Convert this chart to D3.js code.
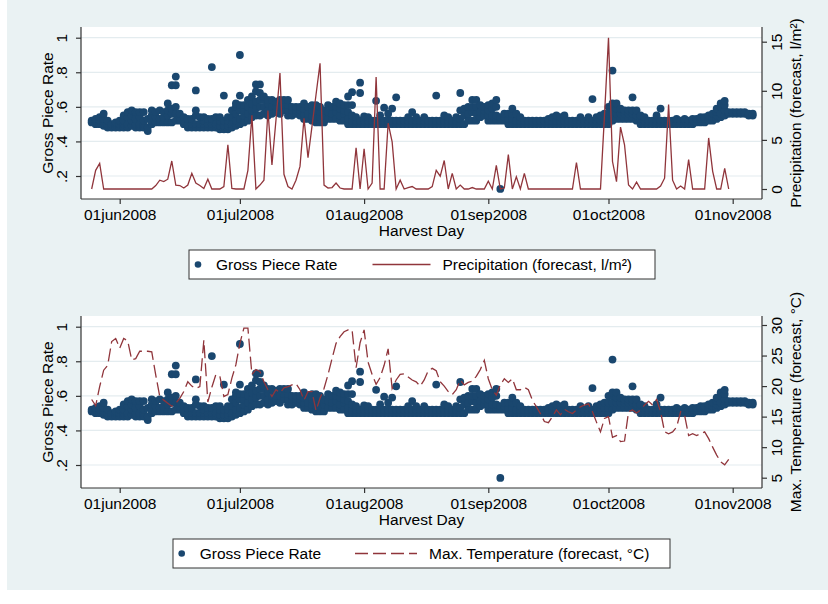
<!DOCTYPE html>
<html>
<head>
<meta charset="utf-8">
<script src="https://cdn.jsdelivr.net/npm/d3@7"></script>
<style>
  body { margin: 0; background: #fff; }
  text { font-family: "Liberation Sans", Arial, Helvetica, sans-serif; fill: #000; }
</style>
</head>
<body>
<div id="chart"></div>
<script>
// Gross piece rate: one list per harvest day (from 25 May 2008), one value per observation
const rateMay = [
  [0.51,0.52],[0.50,0.52,0.53],[0.50,0.52,0.54],[0.49,0.51,0.53,0.56],[0.48,0.50,0.52],
  [0.48,0.50],[0.48,0.50,0.51]
];
const rateJun = [
  [0.48,0.50,0.52],[0.48,0.50,0.52,0.55],[0.48,0.50,0.54,0.57],[0.49,0.52,0.55,0.58],[0.48,0.50,0.53,0.57],
  [0.48,0.50,0.54,0.57],[0.48,0.50,0.52,0.57],[0.46,0.48,0.53],[0.50,0.52,0.55,0.58],[0.51,0.54,0.57],
  [0.51,0.53,0.58],[0.51,0.54,0.57],[0.51,0.55,0.58,0.62],[0.51,0.56,0.59,0.725],[0.52,0.56,0.60,0.725,0.775],
  [0.52,0.54,0.56],[0.50,0.52,0.54],[0.48,0.50,0.53],[0.48,0.50,0.53],[0.48,0.50,0.55,0.58,0.695],
  [0.48,0.50,0.54],[0.48,0.50,0.52,0.54],[0.48,0.50,0.53],[0.48,0.50,0.53,0.83],[0.48,0.50,0.54],
  [0.47,0.49,0.52,0.54],[0.47,0.49,0.52,0.665],[0.47,0.49,0.52,0.54],[0.48,0.50,0.54,0.58],[0.49,0.52,0.56,0.60,0.62]
];
const rateJul = [
  [0.50,0.53,0.58,0.61,0.665,0.90],[0.51,0.55,0.58,0.61],[0.52,0.56,0.60,0.64],[0.54,0.58,0.62,0.66],[0.55,0.59,0.63,0.69,0.73],
  [0.55,0.60,0.64,0.68,0.73],[0.56,0.60,0.64,0.66],[0.55,0.58,0.62,0.64],[0.56,0.60,0.64],[0.57,0.60,0.63],
  [0.56,0.60,0.64],[0.58,0.61,0.64],[0.55,0.58,0.61,0.64],[0.55,0.58,0.60],[0.56,0.58,0.60],
  [0.55,0.58,0.60],[0.53,0.56,0.59,0.62],[0.53,0.56,0.60],[0.52,0.55,0.58,0.61],[0.51,0.54,0.58,0.61],
  [0.51,0.54,0.57,0.60],[0.51,0.55,0.58],[0.53,0.57,0.61],[0.53,0.56,0.60],[0.53,0.57,0.60,0.63],
  [0.52,0.55,0.59,0.62],[0.52,0.56,0.58,0.61],[0.50,0.53,0.57,0.61,0.66],[0.50,0.52,0.55,0.61,0.685],[0.50,0.52,0.54],
  [0.50,0.52,0.68,0.74]
];
const rateAug = [
  [0.50,0.52,0.545],[0.50,0.52,0.54],[0.50,0.52],[0.50,0.52,0.635],[0.50,0.52,0.55],
  [0.50,0.52,0.595],[0.50,0.52,0.56],[0.50,0.52,0.59],[0.50,0.52,0.655],[0.50,0.52],
  [0.50,0.52],[0.50,0.52,0.54],[0.50,0.52,0.57],[0.50,0.52,0.54],[0.50,0.52],
  [0.50,0.52,0.54],[0.50,0.52],[0.50,0.52],[0.50,0.52,0.665],[0.50,0.52],
  [0.50,0.52,0.55],[0.50,0.52,0.54],[0.50,0.52],[0.50,0.52,0.54],[0.50,0.53,0.58,0.68],
  [0.50,0.55,0.59],[0.52,0.56,0.60],[0.52,0.57,0.60,0.64],[0.52,0.56,0.60,0.64],[0.54,0.57,0.61],
  [0.55,0.58,0.60]
];
const rateSep = [
  [0.52,0.55,0.58,0.61],[0.52,0.55,0.59,0.62],[0.52,0.55,0.60,0.64],[0.52,0.54,0.125],[0.52,0.54,0.56],
  [0.50,0.53,0.56],[0.50,0.53,0.56,0.59],[0.50,0.52,0.56],[0.50,0.52,0.54],[0.50,0.52],
  [0.50,0.52],[0.50,0.52],[0.50,0.52],[0.50,0.52],[0.50,0.52],
  [0.50,0.52,0.53],[0.50,0.52,0.54],[0.50,0.52,0.55],[0.50,0.52,0.54],[0.50,0.52,0.55],
  [0.50,0.52],[0.50,0.52],[0.50,0.52],[0.50,0.52,0.54],[0.50,0.52],
  [0.50,0.52,0.54],[0.50,0.52,0.645],[0.50,0.52,0.54],[0.50,0.52,0.55],[0.50,0.53,0.56]
];
const rateOct = [
  [0.50,0.53,0.56,0.60],[0.52,0.56,0.60,0.62,0.81],[0.53,0.56,0.59,0.62],[0.53,0.56,0.59],[0.53,0.56,0.58],
  [0.53,0.56,0.58],[0.53,0.56,0.58,0.655],[0.52,0.55,0.58],[0.50,0.53,0.55],[0.50,0.52,0.54],
  [0.50,0.52],[0.50,0.52],[0.50,0.52,0.55],[0.50,0.52,0.59],[0.50,0.52],
  [0.50,0.52],[0.50,0.52],[0.50,0.52,0.53],[0.50,0.52],[0.50,0.52,0.53],
  [0.50,0.52],[0.50,0.52,0.53],[0.51,0.53],[0.51,0.53,0.54],[0.51,0.53,0.54],
  [0.52,0.54,0.55],[0.52,0.54,0.56],[0.53,0.55,0.57,0.59],[0.54,0.56,0.60,0.62],[0.55,0.58,0.61,0.635],
  [0.56,0.57]
];
const rateNov = [[0.56,0.57],[0.56,0.57],[0.56,0.57],[0.56,0.57],[0.55,0.56],[0.55,0.56]];

// Precipitation forecast (l/m²), daily from 25 May 2008
const precipMay = [0, 1.9, 2.6, 0, 0, 0, 0];
const precipJun = [0, 0, 0, 0, 0, 0, 0, 0, 0, 0.35, 0.9, 0.75, 1.0, 2.85, 0.4,
  0.35, 0.1, 0.4, 1.6, 0.6, 0.35, 0.05, 1.0, 0, 0, 0, 0.25, 4.5, 0.05, 0];
const precipJul = [0, 0, 1.9, 7.5, 0, 0.4, 0.9, 8.0, 2.45, 7.0, 11.8, 1.5, 0.25, 0, 0.9,
  2.3, 7.2, 3.2, 6.4, 9.6, 12.8, 0.4, 0.1, 0.15, 0.6, 0.1, 0, 0, 0, 4.2, 0];
const precipAug = [4.1, 0, 0.6, 11.4, 0, 0, 6.7, 4.8, 0, 0.9, 0, 0.15, 0.25, 0, 0,
  0, 0, 0.25, 1.9, 1.3, 2.9, 0, 1.6, 0, 0.4, 0, 0, 0.15, 0, 0, 0];
const precipSep = [0.8, 0, 2.4, 0, 0.1, 3.5, 0, 1.25, 0, 1.6, 0, 0, 0, 0, 0,
  0, 0, 0, 0, 0, 0, 0, 2.7, 0, 0, 0, 0, 0, 0, 7.5];
const precipOct = [15.4, 2.8, 0.75, 6.3, 4.5, 0.4, 0, 0.7, 0, 0, 0, 0, 0, 0.3, 1.1,
  8.6, 0.9, 0, 0.3, 0, 3.0, 0, 0, 0, 0, 5.2, 1.8, 0, 0, 2.1, 0];

// Max. temperature forecast (°C), daily from 25 May 2008
const tempMay = [17.8, 16.8, 19.9, 22.6, 23.4, 27.3, 27.8];
const tempJun = [26.2, 27.8, 27.4, 24.3, 24.5, 25.7, 25.7, 25.7, 25.6, 21.8, 18.3, 17.7, 17.2, 16.7, 17.2,
  18.0, 19.1, 20.7, 20.0, 19.6, 19.9, 27.5, 17.4, 19.8, 21.9, 21.6, 18.3, 18.6, 21.3, 23.5];
const tempJul = [27.0, 29.5, 29.5, 21.9, 22.7, 22.4, 20.7, 19.4, 18.3, 19.4, 18.9, 19.7, 19.9, 20.2, 20.4,
  19.4, 17.7, 19.1, 19.1, 16.0, 18.0, 19.6, 21.9, 24.5, 27.0, 28.1, 28.9, 29.2, 29.2, 23.0, 27.1];
const tempAug = [29.2, 23.9, 21.9, 20.3, 21.4, 23.4, 26.1, 19.6, 21.0, 21.9, 22.0, 21.5, 21.0, 20.7, 20.0,
  21.0, 22.5, 22.9, 22.5, 20.7, 20.0, 19.1, 18.6, 19.4, 21.0, 20.2, 20.6, 20.8, 21.6, 22.7, 24.2];
const tempSep = [21.2, 19.4, 18.5, 20.2, 21.2, 20.6, 21.2, 19.4, 19.4, 19.8, 19.4, 17.7, 16.6, 15.5, 14.2,
  14.0, 15.0, 16.1, 15.3, 16.2, 15.8, 15.5, 16.1, 16.6, 16.9, 17.1, 15.8, 14.1, 12.5, 14.7];
const tempOct = [15.0, 11.6, 11.9, 10.9, 11.0, 15.8, 16.1, 15.6, 16.1, 16.9, 17.5, 16.9, 17.8, 15.8, 12.5,
  12.2, 12.5, 13.3, 15.8, 15.2, 11.9, 12.2, 11.9, 12.2, 12.5, 11.4, 10.0, 8.7, 7.6, 7.1, 8.0];

const rateTicks = [0.2, 0.4, 0.6, 0.8, 1];
const precipTicks = [0, 5, 10, 15];
const tempTicks = [5, 10, 15, 20, 25, 30];
const monthTicks = ["2008-06-01", "2008-07-01", "2008-08-01", "2008-09-01", "2008-10-01", "2008-11-01"];

const navy = "#1a476f";
const maroon = "#90353b";
const gridColor = "#e4ecef";
const fontSize = "15.5px";

const startDay = new Date(2008, 4, 25);
const parseDay = d3.timeParse("%Y-%m-%d");
const dayAt = i => d3.timeDay.offset(startDay, i);

const ratePoints = [].concat(rateMay, rateJun, rateJul, rateAug, rateSep, rateOct, rateNov)
  .flatMap((vals, i) => vals.map(v => ({ date: dayAt(i), v })));
const precipSeries = [].concat(precipMay, precipJun, precipJul, precipAug, precipSep, precipOct)
  .map((v, i) => ({ date: dayAt(i), v }));
const tempSeries = [].concat(tempMay, tempJun, tempJul, tempAug, tempSep, tempOct)
  .map((v, i) => ({ date: dayAt(i), v }));

const W = 828, H = 604;
const plotL = 81, plotR = 762, plotT = 27, plotB = 199;

const svg = d3.select("#chart").append("svg")
  .attr("width", W).attr("height", H);

// graph region background
svg.append("rect")
  .attr("x", 7).attr("y", 0).attr("width", W - 7).attr("height", 590)
  .attr("fill", "#eaf2f3");

const x = d3.scaleTime()
  .domain([parseDay("2008-06-01"), parseDay("2008-11-01")])
  .range([119.7, 732.7]);

const fmtDay = d => d3.timeFormat("%d")(d) + d3.timeFormat("%b")(d).toLowerCase() + d3.timeFormat("%Y")(d);
const fmtRate = d => d === 1 ? "1" : d3.format(".1f")(d).replace(/^0/, "");

function drawPanel(offsetY, opt) {
  const g = svg.append("g").attr("transform", `translate(0,${offsetY})`);

  const yRate = d3.scaleLinear().domain([0.2, 1]).range([176, 37.7]);
  const yRight = d3.scaleLinear().domain(opt.rightDomain).range(opt.rightRange);

  g.append("rect")
    .attr("x", plotL).attr("y", plotT)
    .attr("width", plotR - plotL).attr("height", plotB - plotT)
    .attr("fill", "#fff");

  // horizontal grid at the left-axis ticks
  g.append("g").selectAll("line")
    .data(rateTicks)
    .enter().append("line")
    .attr("x1", plotL).attr("x2", plotR)
    .attr("y1", d => yRate(d)).attr("y2", d => yRate(d))
    .attr("stroke", gridColor).attr("stroke-width", 1.2);

  // scatter of piece rates
  g.append("g").selectAll("circle")
    .data(ratePoints)
    .enter().append("circle")
    .attr("cx", d => x(d.date))
    .attr("cy", d => yRate(d.v))
    .attr("r", 3.9)
    .attr("fill", navy);

  const line = d3.line()
    .x(d => x(d.date))
    .y(d => yRight(d.v));

  g.append("path")
    .datum(opt.series)
    .attr("d", line)
    .attr("fill", "none")
    .attr("stroke", maroon)
    .attr("stroke-width", 1.3)
    .attr("stroke-dasharray", opt.dash);

  // axis lines span the whole plot region
  g.append("line").attr("x1", plotL).attr("x2", plotR).attr("y1", plotB).attr("y2", plotB)
    .attr("stroke", "#333").attr("stroke-width", 1.2);
  g.append("line").attr("x1", plotL).attr("x2", plotL).attr("y1", plotT).attr("y2", plotB)
    .attr("stroke", "#333").attr("stroke-width", 1.2);
  g.append("line").attr("x1", plotR).attr("x2", plotR).attr("y1", plotT).attr("y2", plotB)
    .attr("stroke", "#333").attr("stroke-width", 1.2);

  const xAxis = g.append("g")
    .attr("transform", `translate(0,${plotB})`)
    .call(d3.axisBottom(x).tickValues(monthTicks.map(parseDay)).tickFormat(fmtDay).tickSize(5));
  xAxis.select(".domain").remove();
  xAxis.selectAll("line").attr("stroke", "#333").attr("stroke-width", 1.2);
  xAxis.selectAll("text").attr("y", 21).attr("dy", 0)
    .style("font-size", fontSize).attr("fill", "#000");

  const yAxis = g.append("g")
    .attr("transform", `translate(${plotL},0)`)
    .call(d3.axisLeft(yRate).tickValues(rateTicks).tickFormat(fmtRate).tickSize(5));
  yAxis.select(".domain").remove();
  yAxis.selectAll("line").attr("stroke", "#333").attr("stroke-width", 1.2);
  yAxis.selectAll("text")
    .attr("transform", "rotate(-90)")
    .attr("x", 0).attr("y", -14).attr("dy", 0)
    .attr("text-anchor", "middle")
    .style("font-size", fontSize).attr("fill", "#000");

  const rAxis = g.append("g")
    .attr("transform", `translate(${plotR},0)`)
    .call(d3.axisRight(yRight).tickValues(opt.rightTicks).tickSize(5));
  rAxis.select(".domain").remove();
  rAxis.selectAll("line").attr("stroke", "#333").attr("stroke-width", 1.2);
  rAxis.selectAll("text")
    .attr("transform", "rotate(-90)")
    .attr("x", 0).attr("y", 20).attr("dy", 0)
    .attr("text-anchor", "middle")
    .style("font-size", fontSize).attr("fill", "#000");

  // axis titles
  g.append("text")
    .attr("transform", `translate(53,${(plotT + plotB) / 2}) rotate(-90)`)
    .attr("text-anchor", "middle").style("font-size", fontSize)
    .text("Gross Piece Rate");
  g.append("text")
    .attr("transform", `translate(801,${(plotT + plotB) / 2}) rotate(-90)`)
    .attr("text-anchor", "middle").style("font-size", fontSize)
    .text(opt.rightTitle);
  g.append("text")
    .attr("x", (plotL + plotR) / 2).attr("y", 235.5)
    .attr("text-anchor", "middle").style("font-size", fontSize)
    .text("Harvest Day");

  // legend
  const lg = opt.legend;
  g.append("rect")
    .attr("x", lg.x0).attr("y", 250).attr("width", lg.x1 - lg.x0).attr("height", 29)
    .attr("fill", "#fff").attr("stroke", "#333").attr("stroke-width", 1);
  g.append("circle").attr("cx", lg.dot).attr("cy", 264.5).attr("r", 3.3).attr("fill", navy);
  g.append("text").attr("x", lg.dot + 18).attr("y", 270).style("font-size", fontSize)
    .text("Gross Piece Rate");
  g.append("line")
    .attr("x1", lg.line[0]).attr("x2", lg.line[1]).attr("y1", 264.5).attr("y2", 264.5)
    .attr("stroke", maroon).attr("stroke-width", 1.3).attr("stroke-dasharray", opt.dash);
  g.append("text").attr("x", lg.line[1] + 12).attr("y", 270).style("font-size", fontSize)
    .text(opt.seriesLabel);
}

drawPanel(0, {
  series: precipSeries,
  rightDomain: [0, 15], rightRange: [189, 41.7], rightTicks: precipTicks,
  rightTitle: "Precipitation (forecast, l/m²)",
  seriesLabel: "Precipitation (forecast, l/m²)",
  dash: null,
  legend: { x0: 189, x1: 655, dot: 198, line: [372.5, 430.5] }
});

drawPanel(289, {
  series: tempSeries,
  rightDomain: [5, 30], rightRange: [188.7, 36], rightTicks: tempTicks,
  rightTitle: "Max. Temperature (forecast, °C)",
  seriesLabel: "Max. Temperature (forecast, °C)",
  dash: "13,5",
  legend: { x0: 173, x1: 670, dot: 181.7, line: [355, 417] }
});
</script>
</body>
</html>
